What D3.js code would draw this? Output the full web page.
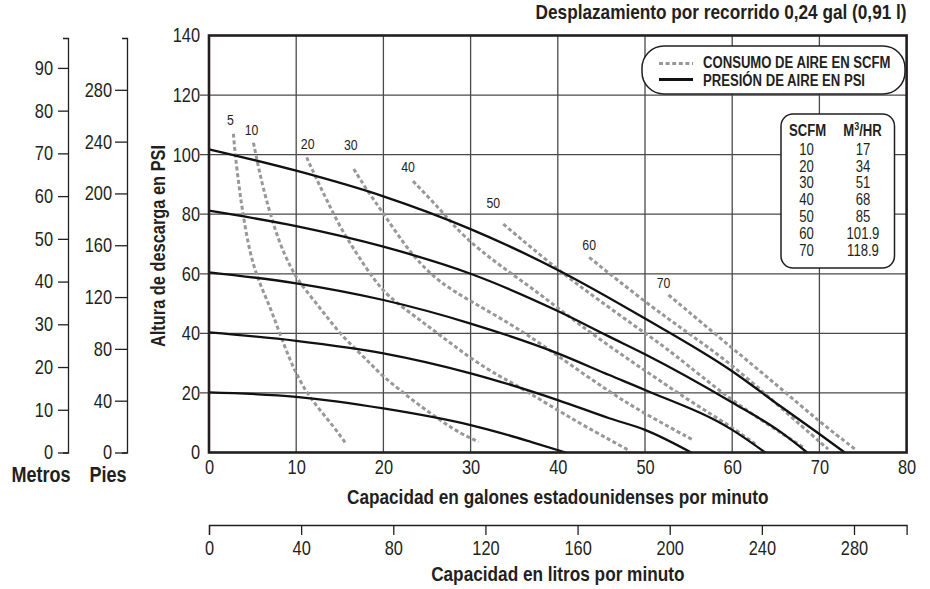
<!DOCTYPE html>
<html>
<head>
<meta charset="utf-8">
<script src="https://cdn.jsdelivr.net/npm/d3@7"></script>
<style>
body { margin: 0; background: #fff; }
text { font-family: "Liberation Sans", Arial, sans-serif; fill: #231f20; }
.bold { font-weight: bold; }
</style>
</head>
<body>
<div id="result"></div>
<script>
/* Data */
var gpmTicks = [0, 10, 20, 30, 40, 50, 60, 70, 80];
var psiTicks = [0, 20, 40, 60, 80, 100, 120, 140];
var metrosTicks = [0, 10, 20, 30, 40, 50, 60, 70, 80, 90];
var piesTicks = [0, 40, 80, 120, 160, 200, 240, 280];
var litrosTicks = [0, 40, 80, 120, 160, 200, 240, 280];

// air pressure curves [gpm, psi]
var psi20 = [[0, 20.2], [10, 18.7], [20, 14.8], [30, 9.2], [33.4, 6.6], [37, 3.5], [40.9, 0]];
var psi40 = [[0, 40.3], [10, 37.5], [20, 33.3], [30, 26.6], [40, 17.6], [45.9, 11.5], [50, 7.6], [55.3, 0]];
var psi60 = [[0, 60.5], [10, 56.8], [20, 51.2], [30, 43.3], [40, 33.3], [45.9, 26], [50, 21], [60, 7.6], [63.8, 0]];
var psi80 = [[0, 81.2], [10, 76], [20, 69.1], [30, 60], [40, 47.5], [45.9, 38.9], [50, 33], [60, 16.8], [65.5, 7], [68.6, 0]];
var psi100 = [[0, 101.8], [10, 94.6], [20, 86], [30, 75], [40, 61.3], [50, 45], [60, 27.3], [65.5, 15.6], [70, 6.2], [72.9, 0]];

// air consumption curves [gpm, psi]
var scfm5 = [[2.8, 107], [3.0, 100], [3.5, 88], [3.9, 80], [4.6, 68], [5.6, 58], [7.0, 49], [8.1, 40], [9.3, 31], [10, 26.6], [11.2, 20], [12.7, 14.3], [14.3, 8.7], [15.6, 3.4]];
var scfm10 = [[5.1, 104], [5.65, 96], [6.2, 89], [7.0, 80.3], [8.1, 70.2], [9.3, 62.4], [10.4, 57], [12.0, 51.2], [13.5, 45.6], [15.0, 40], [16.9, 34.4], [18.5, 29.9], [20, 25.4], [21.9, 21.0], [23.8, 16.5], [26.5, 10.9], [28.8, 6.4], [30.9, 3.6]];
var scfm20 = [[11.2, 99.1], [12.2, 92.6], [13.5, 84.8], [15, 75.8], [16.9, 66.9], [18.8, 58.5], [20.5, 52.5], [23.4, 46.2], [25.7, 41.1], [28, 36.1], [30.3, 31], [33.4, 25.4], [34.9, 23.2], [38.7, 16.5], [42.5, 9.8], [46, 4.2], [48.1, 0.8]];
var scfm30 = [[16.6, 95.2], [18.1, 88.1], [20, 80.3], [22.3, 70.2], [24.2, 63.5], [26.5, 57], [29.7, 51.3], [33.2, 45.5], [36.8, 39], [40, 32.5], [45.9, 20.3], [50, 13], [55.5, 4.2]];
var scfm40 = [[23.4, 91.1], [25.3, 85.3], [26.9, 80.3], [29.2, 72.4], [33, 63.5], [36.8, 55.7], [40, 48.5], [45, 37.5], [50, 27.5], [55, 17.5], [60, 8.5], [62.8, 2.5]];
var scfm50 = [[33.75, 76.7], [40, 61.3], [44.4, 51.8], [50, 40], [52.8, 34.4], [60, 17], [68.3, 1.5]];
var scfm60 = [[43.6, 65.5], [50, 50.5], [55, 40], [60, 29.5], [65, 16.5], [71, 1.1]];
var scfm70 = [[52.7, 52.9], [60, 35], [65, 23], [70, 10.3], [74.1, 1.1]];

var pressureCurves = [psi20, psi40, psi60, psi80, psi100];
var scfmCurves = [scfm5, scfm10, scfm20, scfm30, scfm40, scfm50, scfm60, scfm70];
var scfmNames = ["5", "10", "20", "30", "40", "50", "60", "70"];

// conversion table
var tableScfm = ["10", "20", "30", "40", "50", "60", "70"];
var tableM3hr = ["17", "34", "51", "68", "85", "101.9", "118.9"];

var width = 930;
var height = 589;
var narrow = 0.82; // squeeze Liberation Sans down to a narrow face

var svg = d3.select("#result").append("svg")
    .attr("width", width)
    .attr("height", height);

/* Scales */
var x = d3.scaleLinear().domain([0, 80]).range([209, 906.6]);
var y = d3.scaleLinear().domain([0, 140]).range([452.5, 35.5]);
var xLitros = d3.scaleLinear().domain([0, 80 * 3.785411784]).range([209, 906.6]);
var yMetros = d3.scaleLinear().domain([0, 97]).range([452.5, 38]);
var yPies = d3.scaleLinear().domain([0, 320]).range([452.5, 38]);

var ink = "#231f20";
var dashGrey = "#989898";

/* Grid */
var grid = svg.append("g").attr("class", "grid");
grid.selectAll("line.v").data(gpmTicks.slice(1, -1)).enter().append("line")
    .attr("x1", function (d) { return x(d); })
    .attr("x2", function (d) { return x(d); })
    .attr("y1", y(0)).attr("y2", y(140))
    .style("stroke", "#4a4a4a").style("stroke-width", 1.3);
grid.selectAll("line.h").data(psiTicks.slice(1, -1)).enter().append("line")
    .attr("x1", x(0) - 9).attr("x2", x(80))
    .attr("y1", function (d) { return y(d); })
    .attr("y2", function (d) { return y(d); })
    .style("stroke", "#4a4a4a").style("stroke-width", 1.3);

/* Curves */
var line = d3.line()
    .x(function (d) { return x(d[0]); })
    .y(function (d) { return y(d[1]); })
    .curve(d3.curveMonotoneX);

// hand-read points are a bit noisy, so smooth the dashed ones
var smoothLine = d3.line()
    .x(function (d) { return x(d[0]); })
    .y(function (d) { return y(d[1]); })
    .curve(d3.curveBasis);

svg.append("g").selectAll("path").data(scfmCurves).enter().append("path")
    .attr("d", smoothLine)
    .style("fill", "none")
    .style("stroke", dashGrey)
    .style("stroke-width", 3)
    .style("stroke-dasharray", "4,2.6");

svg.append("g").selectAll("path").data(pressureCurves).enter().append("path")
    .attr("d", line)
    .style("fill", "none")
    .style("stroke", "#111")
    .style("stroke-width", 2.3);

// scfm labels, nudged from the start of each curve
var labelNudge = [[-3, -14], [-2, -13], [1, -13], [-3, -24], [-5, -14], [-10, -21], [0, -12], [-5, -12]];
svg.append("g").selectAll("text").data(scfmCurves).enter().append("text")
    .attr("x", function (d, i) { return x(d[0][0]) + labelNudge[i][0]; })
    .attr("y", function (d, i) { return y(d[0][1]) + labelNudge[i][1] + 5; })
    .attr("text-anchor", "middle")
    .style("font-size", "15px")
    .text(function (d, i) { return scfmNames[i]; });

/* Frame */
svg.append("rect")
    .attr("x", x(0)).attr("y", y(140))
    .attr("width", x(80) - x(0)).attr("height", y(0) - y(140))
    .style("fill", "none").style("stroke", ink).style("stroke-width", 2.6);

/* Axes */
var yAxis = svg.append("g").attr("transform", "translate(" + x(0) + ",0)")
    .call(d3.axisLeft(y).tickValues(psiTicks).tickSize(0).tickPadding(9));
yAxis.select(".domain").remove();

var xAxis = svg.append("g").attr("transform", "translate(0," + y(0) + ")")
    .call(d3.axisBottom(x).tickValues(gpmTicks).tickSize(0).tickPadding(7));
xAxis.select(".domain").remove();

var litrosAxis = svg.append("g").attr("transform", "translate(0,525)")
    .call(d3.axisBottom(xLitros).tickValues(litrosTicks).tickSize(10).tickSizeOuter(10).tickPadding(6));

var metrosAxis = svg.append("g").attr("transform", "translate(68,0)")
    .call(d3.axisLeft(yMetros).tickValues(metrosTicks).tickSize(10).tickSizeOuter(5).tickPadding(5));

var piesAxis = svg.append("g").attr("transform", "translate(127,0)")
    .call(d3.axisLeft(yPies).tickValues(piesTicks).tickSize(12).tickSizeOuter(5).tickPadding(3));

[yAxis, xAxis, litrosAxis, metrosAxis, piesAxis].forEach(function (a) {
    a.selectAll("text").style("font-size", "20px").attr("fill", ink);
    a.selectAll("line, path").style("stroke", ink).style("stroke-width", 1.3);
    a.attr("font-family", null).attr("font-size", null);
});

/* Titles */
svg.append("text").attr("class", "bold")
    .attr("x", x(80)).attr("y", 19)
    .attr("text-anchor", "end")
    .style("font-size", "21px")
    .text("Desplazamiento por recorrido 0,24 gal (0,91 l)");

svg.append("text").attr("class", "bold")
    .attr("transform", "translate(165,246) rotate(-90)")
    .attr("text-anchor", "middle")
    .style("font-size", "20px")
    .text("Altura de descarga en PSI");

svg.append("text").attr("class", "bold")
    .attr("x", (x(0) + x(80)) / 2).attr("y", 504)
    .attr("text-anchor", "middle")
    .style("font-size", "21px")
    .text("Capacidad en galones estadounidenses por minuto");

svg.append("text").attr("class", "bold")
    .attr("x", (x(0) + x(80)) / 2).attr("y", 581)
    .attr("text-anchor", "middle")
    .style("font-size", "21px")
    .text("Capacidad en litros por minuto");

svg.append("text").attr("class", "bold")
    .attr("x", 41).attr("y", 482)
    .attr("text-anchor", "middle")
    .style("font-size", "22px")
    .text("Metros");

svg.append("text").attr("class", "bold")
    .attr("x", 108).attr("y", 482)
    .attr("text-anchor", "middle")
    .style("font-size", "22px")
    .text("Pies");

/* Legend */
var legend = svg.append("g");
legend.append("rect")
    .attr("x", 642).attr("y", 46).attr("width", 263).attr("height", 48).attr("rx", 22)
    .style("fill", "#fff").style("stroke", ink).style("stroke-width", 1.5);
legend.append("line")
    .attr("x1", 659).attr("x2", 693).attr("y1", 63.5).attr("y2", 63.5)
    .style("stroke", dashGrey).style("stroke-width", 3).style("stroke-dasharray", "4,2.6");
legend.append("line")
    .attr("x1", 659).attr("x2", 693).attr("y1", 79.5).attr("y2", 79.5)
    .style("stroke", "#111").style("stroke-width", 3);
legend.append("text").attr("class", "bold")
    .attr("x", 703).attr("y", 68.5).style("font-size", "16px")
    .text("CONSUMO DE AIRE EN SCFM");
legend.append("text").attr("class", "bold")
    .attr("x", 703).attr("y", 86).style("font-size", "16px")
    .text("PRESIÓN DE AIRE EN PSI");

/* Conversion table */
var table = svg.append("g");
table.append("rect")
    .attr("x", 781).attr("y", 114).attr("width", 113.5).attr("height", 154).attr("rx", 12)
    .style("fill", "#fff").style("stroke", ink).style("stroke-width", 1.5);
table.append("text").attr("class", "bold")
    .attr("x", 807.5).attr("y", 136.5).attr("text-anchor", "middle").style("font-size", "16px")
    .text("SCFM");
var m3 = table.append("text").attr("class", "bold")
    .attr("x", 862.5).attr("y", 136.5).attr("text-anchor", "middle").style("font-size", "16px");
m3.append("tspan").text("M");
m3.append("tspan").attr("dy", -6).style("font-size", "11px").text("3");
m3.append("tspan").attr("dy", 6).text("/HR");

table.selectAll("text.scfm").data(tableScfm).enter().append("text")
    .attr("x", 806.5)
    .attr("y", function (d, i) { return 154.7 + i * 16.9; })
    .attr("text-anchor", "middle").style("font-size", "16px")
    .text(function (d) { return d; });
table.selectAll("text.m3").data(tableM3hr).enter().append("text")
    .attr("x", 863)
    .attr("y", function (d, i) { return 154.7 + i * 16.9; })
    .attr("text-anchor", "middle").style("font-size", "16px")
    .text(function (d) { return d; });

// narrow every label: squeeze horizontally around its anchor point
svg.selectAll("text").each(function () {
    var t = this.getAttribute("transform") || "";
    var ax = +this.getAttribute("x") || 0;
    this.setAttribute("transform", t + " translate(" + ax + ",0) scale(" + narrow + ",1) translate(" + (-ax) + ",0)");
});
</script>
</body>
</html>
